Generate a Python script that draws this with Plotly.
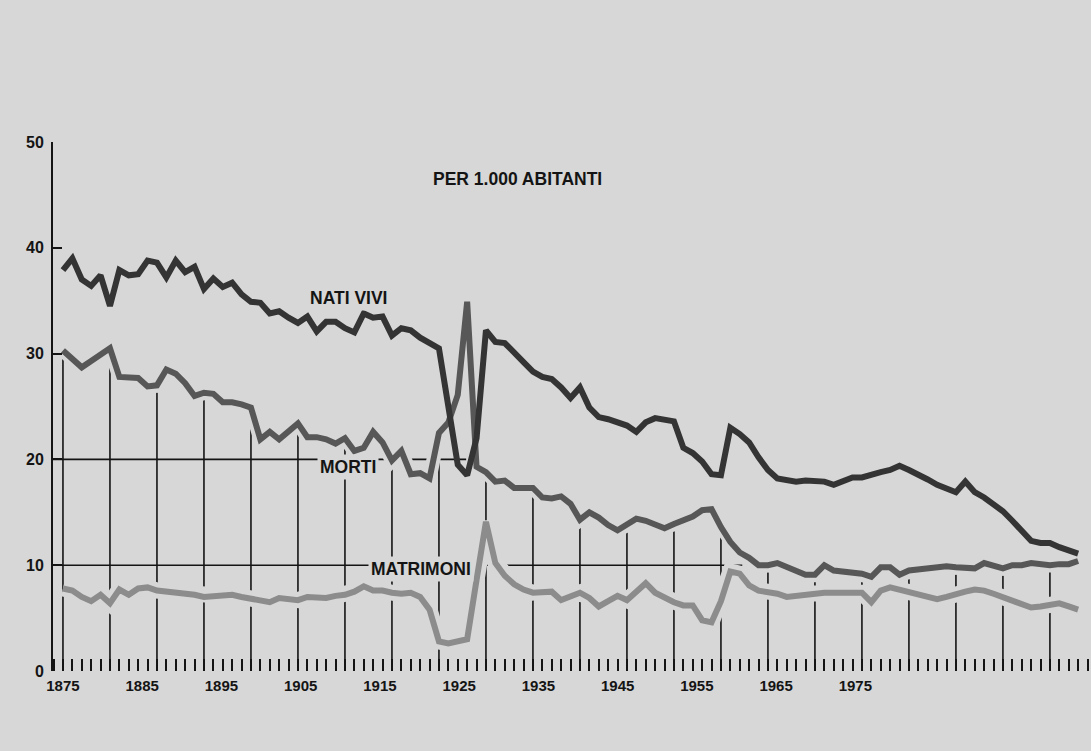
"""Italia 1875-1983: nati vivi, morti e matrimoni per 1.000 abitanti."""
import plotly.graph_objects as go

# ---- dati ------------------------------------------------------------------
ANNI = list(range(1875, 1984))

NATI_VIVI = [
    37.9, 39.0, 37.0, 36.4, 37.4, 34.5, 37.9, 37.4, 37.5, 38.8,   # 1875-1884
    38.6, 37.2, 38.8, 37.7, 38.2, 36.1, 37.1, 36.3, 36.7, 35.6,   # 1885-1894
    34.9, 34.8, 33.8, 34.0, 33.4, 32.9, 33.5, 32.1, 33.0, 33.0,   # 1895-1904
    32.4, 32.0, 33.8, 33.4, 33.5, 31.7, 32.4, 32.2, 31.5, 31.0,   # 1905-1914
    30.5, 25.0, 19.5, 18.5, 22.0, 32.2, 31.1, 31.0, 30.0, 29.2,   # 1915-1924
    28.3, 27.8, 27.6, 26.8, 25.8, 26.8, 24.9, 24.0, 23.8, 23.5,   # 1925-1934
    23.2, 22.6, 23.5, 23.9, 23.8, 23.6, 21.1, 20.6, 19.8, 18.6,   # 1935-1944
    18.5, 23.0, 22.4, 21.6, 20.2, 19.0, 18.2, 18.0, 17.9, 18.0,   # 1945-1954
    18.0, 17.9, 17.6, 17.9, 18.3, 18.3, 18.6, 18.8, 19.0, 19.4,   # 1955-1964
    19.0, 18.6, 18.1, 17.6, 17.3, 16.9, 17.9, 16.9, 16.4, 15.7,   # 1965-1974
    15.1, 14.2, 13.2, 12.3, 12.1, 12.1, 11.7, 11.4, 11.1,         # 1975-1983
]

MORTI = [
    30.3, 29.4, 28.7, 29.3, 29.9, 30.5, 27.8, 27.8, 27.7, 26.9,
    27.0, 28.5, 28.1, 27.2, 26.0, 26.3, 26.2, 25.4, 25.4, 25.2,
    24.9, 21.9, 22.6, 21.9, 22.6, 23.4, 22.1, 22.1, 21.9, 21.5,
    22.0, 20.8, 21.1, 22.6, 21.6, 19.9, 20.8, 18.6, 18.7, 18.2,
    22.5, 23.5, 26.1, 34.9, 19.3, 18.8, 17.9, 18.0, 17.3, 17.3,
    17.3, 16.4, 16.3, 16.5, 15.8, 14.3, 15.0, 14.5, 13.8, 13.3,
    13.8, 14.4, 14.2, 13.8, 13.5, 13.9, 14.3, 14.6, 15.2, 15.3,
    13.6, 12.2, 11.2, 10.7, 10.0, 10.0, 10.2, 9.8, 9.4, 9.1,
    9.1, 10.0, 9.5, 9.4, 9.3, 9.2, 8.9, 9.8, 9.8, 9.1,
    9.5, 9.6, 9.7, 9.8, 9.9, 9.8, 9.8, 9.7, 10.2, 9.9,
    9.7, 10.0, 10.0, 10.2, 10.1, 10.0, 10.1, 10.1, 10.4,
]

MATRIMONI = [
    7.8, 7.6, 7.0, 6.6, 7.2, 6.4, 7.7, 7.2, 7.8, 7.9,
    7.6, 7.5, 7.5, 7.4, 7.2, 7.0, 7.1, 7.1, 7.2, 7.0,
    6.8, 6.7, 6.5, 6.9, 6.8, 6.7, 7.0, 6.9, 6.9, 7.1,
    7.2, 7.5, 8.0, 7.6, 7.6, 7.4, 7.3, 7.4, 7.0, 5.8,
    2.8, 2.6, 2.8, 3.0, 8.6, 14.1, 10.2, 9.0, 8.2, 7.7,
    7.4, 7.5, 7.5, 6.7, 7.1, 7.4, 6.9, 6.1, 6.6, 7.1,
    6.7, 7.5, 8.3, 7.4, 6.9, 6.5, 6.2, 6.2, 4.8, 4.6,
    6.6, 9.4, 9.2, 8.1, 7.6, 7.5, 7.3, 7.0, 7.1, 7.3,
    7.4, 7.4, 7.4, 7.4, 7.4, 7.4, 6.5, 7.6, 7.9, 7.7,
    7.5, 7.3, 7.1, 6.8, 7.0, 7.3, 7.5, 7.7, 7.6, 7.3,
    7.0, 6.7, 6.4, 6.0, 6.1, 6.3, 6.4, 6.1, 5.8,
]

# scritte dell'asse: nella stampa sono spaziate più strette degli anni tracciati
ETICHETTE_ANNI = [1875, 1885, 1895, 1905, 1915, 1925, 1935, 1945, 1955, 1965, 1975]
PASSO_ETICHETTE = 0.843

SFONDO = "#d7d7d7"
_NATI, _MORTI, _MATR = "#343434", "#575757", "#8c8c8c"
_INK = "#141414"
FONT = "Liberation Sans"

# ---- figura ----------------------------------------------------------------
fig = go.Figure()

# aste verticali ogni 5 anni, dalla base fin sotto la curva dei morti
xs, ys = [], []
for anno, m in zip(ANNI, MORTI):
    if (anno - 1875) % 5 == 0:
        xs += [anno, anno, None]
        ys += [0, m - 0.7, None]
fig.add_trace(go.Scatter(x=xs, y=ys, mode="lines", hoverinfo="skip",
                         line=dict(color=_INK, width=1.6)))

# matrimoni e morti con alone chiaro (interrompe aste e linee di riferimento)
fig.add_trace(go.Scatter(x=ANNI, y=MATRIMONI, mode="lines", hoverinfo="skip",
                         line=dict(color=SFONDO, width=16)))
fig.add_trace(go.Scatter(x=ANNI, y=MATRIMONI, mode="lines", name="Matrimoni",
                         line=dict(color=_MATR, width=6)))
fig.add_trace(go.Scatter(x=ANNI, y=MORTI, mode="lines", hoverinfo="skip",
                         line=dict(color=SFONDO, width=14)))
fig.add_trace(go.Scatter(x=ANNI, y=MORTI, mode="lines", name="Morti",
                         line=dict(color=_MORTI, width=6)))
fig.add_trace(go.Scatter(x=ANNI, y=NATI_VIVI, mode="lines", name="Nati vivi",
                         line=dict(color=_NATI, width=6)))

# linee di riferimento a 10 e 20
fig.add_shape(type="line", xref="paper", x0=0, x1=0.398, y0=20, y1=20,
              line=dict(color=_INK, width=1.6), layer="below")
fig.add_shape(type="line", xref="paper", x0=0, x1=0.664, y0=10, y1=10,
              line=dict(color=_INK, width=1.6), layer="below")

for testo, x, y in [("PER 1.000 ABITANTI", 1914.0, 46.5),
                    ("NATI VIVI", 1901.0, 35.3),
                    ("MORTI", 1902.0, 19.3),
                    ("MATRIMONI", 1907.4, 9.6)]:
    fig.add_annotation(x=x, y=y, text=testo, showarrow=False, xanchor="left",
                       yanchor="middle", bgcolor=SFONDO, borderpad=2,
                       font=dict(family=FONT, size=17.5, color=_INK, weight="bold"))

fig.update_layout(
    width=1091, height=751, showlegend=False,
    paper_bgcolor=SFONDO, plot_bgcolor=SFONDO,
    margin=dict(l=53, r=0, t=142, b=80),
    font=dict(family=FONT, size=15, color=_INK, weight="bold"),
)
fig.update_xaxes(
    range=[1873.94, 1984.37], showgrid=False, zeroline=False, showline=False,
    tickmode="array",
    tickvals=[1875 + (a - 1875) * PASSO_ETICHETTE for a in ETICHETTE_ANNI],
    ticktext=[str(a) for a in ETICHETTE_ANNI],
    ticks="", ticklabelstandoff=4,
    tickfont=dict(family=FONT, size=15, color=_INK, weight="bold"),
    minor=dict(ticks="inside", tickmode="linear", tick0=1875, dtick=1,
               ticklen=12, tickwidth=2, tickcolor=_INK, showgrid=False),
)
fig.update_yaxes(
    range=[0, 50], tickvals=[0, 10, 20, 30, 40, 50], showgrid=False,
    zeroline=False, showline=True, linecolor=_INK, linewidth=2,
    ticks="inside", ticklen=9, tickwidth=2, tickcolor=_INK,
    ticklabelstandoff=4,
    tickfont=dict(family=FONT, size=16, color=_INK, weight="bold"),
)

fig.write_html(
    "out.html",
    config={"displayModeBar": False},
    post_script=f"document.body.style.margin='0';"
                f"document.body.style.background='{SFONDO}';",
)
